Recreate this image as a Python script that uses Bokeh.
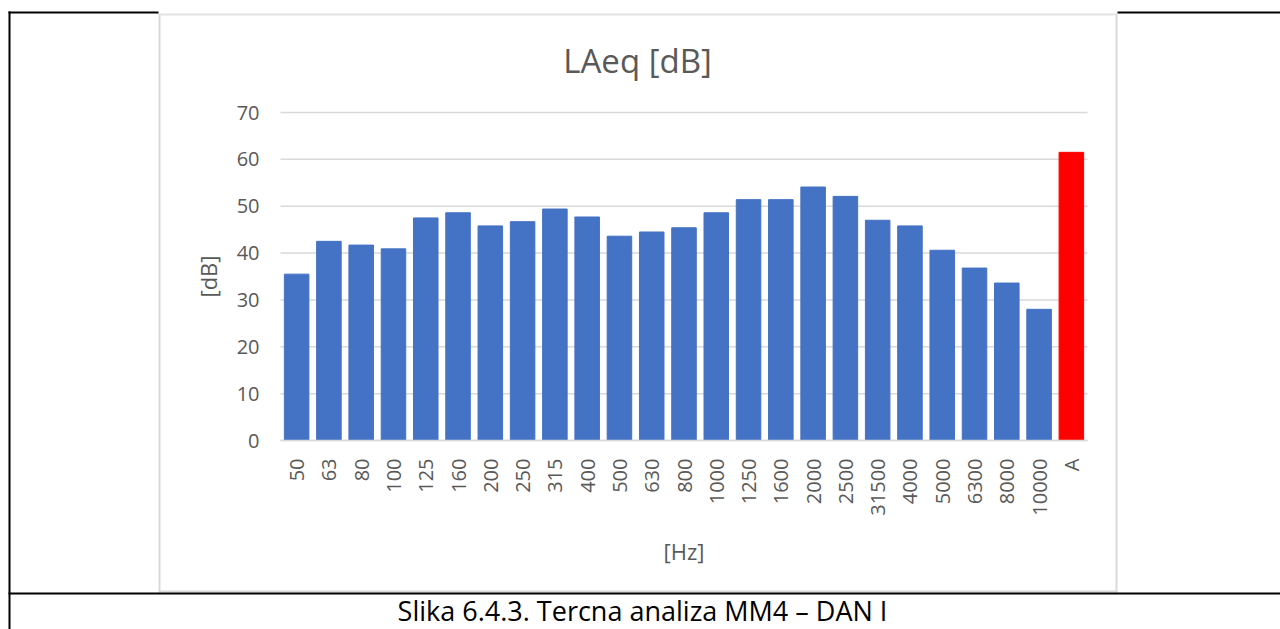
import math
from bokeh.plotting import figure
from bokeh.models import Range1d, FixedTicker, Label, BoxAnnotation, ColumnDataSource
from bokeh.embed import file_html
from bokeh.resources import INLINE

categories = ["50", "63", "80", "100", "125", "160", "200", "250", "315", "400", "500", "630",
              "800", "1000", "1250", "1600", "2000", "2500", "31500", "4000", "5000", "6300",
              "8000", "10000", "A"]
values = [35.5, 42.5, 41.7, 40.9, 47.5, 48.6, 45.8, 46.7, 49.4, 47.7, 43.6, 44.5,
          45.4, 48.6, 51.4, 51.4, 54.1, 52.1, 47.0, 45.8, 40.6, 36.8, 33.6, 28.0, 61.5]
bar_colors = ["#4472C4"] * 24 + ["#FF0000"]
y_ticks = [0, 10, 20, 30, 40, 50, 60, 70]

title_text = "LAeq [dB]"
x_label = "[Hz]"
y_label = "[dB]"
caption_text = "Slika 6.4.3. Tercna analiza MM4 – DAN I"

FONT = "Open Sans"
GRAY = "#595959"

W, H = 1280, 629
# plot area in canvas pixels
PL, PR, PT, PB = 280, 1087, 112, 440
n = len(categories)
ymax = y_ticks[-1]
xs = (PR - PL) / n
ys = (PB - PT) / ymax
x_start = -PL / xs
x_end = x_start + W / xs
y_end = ymax + PT / ys
y_start = -(H - PB) / ys

p = figure(width=W, height=H, output_backend="svg", toolbar_location=None, title=None,
           x_range=Range1d(x_start, x_end), y_range=Range1d(y_start, y_end),
           min_border=0, min_border_left=0, min_border_right=0,
           min_border_top=0, min_border_bottom=0)
p.outline_line_color = None
p.background_fill_color = "white"
p.border_fill_color = "white"
p.xgrid.visible = False
p.ygrid.visible = False

x_pos = [i + 0.5 for i in range(n)]

# gridlines at the y tick values
p.segment(x0=[0] * len(y_ticks), x1=[n] * len(y_ticks), y0=y_ticks, y1=y_ticks,
          line_color="#D9D9D9", line_width=1.5)

src = ColumnDataSource(dict(x=x_pos, top=values, color=bar_colors))
p.vbar(x="x", top="top", width=0.76, color="color", source=src)

# y axis
p.yaxis.fixed_location = 0
p.yaxis.bounds = (0, ymax)
p.yaxis.ticker = FixedTicker(ticks=y_ticks)
p.yaxis.axis_line_color = None
p.yaxis.major_tick_line_color = None
p.yaxis.minor_tick_line_color = None
p.yaxis.major_label_standoff = 15
p.yaxis.major_label_text_font = FONT
p.yaxis.major_label_text_font_size = "20px"
p.yaxis.major_label_text_color = GRAY
p.yaxis.axis_label = y_label
p.yaxis.axis_label_text_font = FONT
p.yaxis.axis_label_text_font_size = "22px"
p.yaxis.axis_label_text_font_style = "normal"
p.yaxis.axis_label_text_color = GRAY
p.yaxis.axis_label_standoff = 11

# x axis
p.xaxis.fixed_location = 0
p.xaxis.bounds = (0, n)
p.xaxis.ticker = FixedTicker(ticks=x_pos)
p.xaxis.major_label_overrides = {x: c for x, c in zip(x_pos, categories)}
p.xaxis.axis_line_color = "#D9D9D9"
p.xaxis.axis_line_width = 1.5
p.xaxis.major_tick_line_color = None
p.xaxis.minor_tick_line_color = None
p.xaxis.major_label_orientation = math.pi / 2
p.xaxis.major_label_standoff = 12
p.xaxis.major_label_text_font = FONT
p.xaxis.major_label_text_font_size = "20px"
p.xaxis.major_label_text_color = GRAY
p.xaxis.axis_label = x_label
p.xaxis.axis_label_text_font = FONT
p.xaxis.axis_label_text_font_size = "22px"
p.xaxis.axis_label_text_font_style = "normal"
p.xaxis.axis_label_text_color = GRAY
p.xaxis.axis_label_standoff = 17


def box(l, r, t, b, color):
    return BoxAnnotation(left=l, right=r, top=t, bottom=b,
                         left_units="canvas", right_units="canvas",
                         top_units="canvas", bottom_units="canvas",
                         fill_color=color, fill_alpha=1, line_color=None)

# gray chart border
p.add_layout(box(158, 160, 13, 592, "#D9D9D9"))
p.add_layout(box(1115, 1117, 13, 592, "#D9D9D9"))
p.add_layout(box(158, 1117, 13, 15, "#E3E3E3"))
p.add_layout(box(158, 1117, 590, 592, "#D9D9D9"))
# black table lines
p.add_layout(box(8, 10, 11, H, "black"))
p.add_layout(box(8, 158, 11, 13, "black"))
p.add_layout(box(1117, W, 11, 13, "black"))
p.add_layout(box(8, W, 592, 594, "black"))

p.add_layout(Label(x=637, y=60, x_units="canvas", y_units="canvas", text=title_text,
                   text_font=FONT, text_font_size="33px", text_color=GRAY,
                   text_align="center", text_baseline="middle"))
p.add_layout(Label(x=642, y=610, x_units="canvas", y_units="canvas", text=caption_text,
                   text_font=FONT, text_font_size="27px", text_color="black",
                   text_align="center", text_baseline="middle"))

open("out.html", "w").write(file_html(p, INLINE))
